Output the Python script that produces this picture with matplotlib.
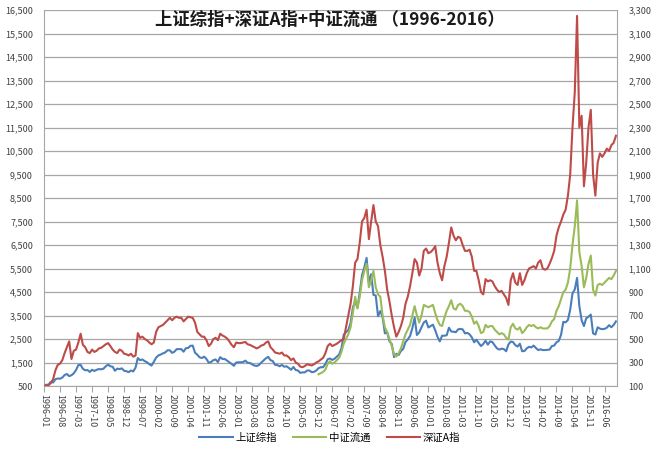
import matplotlib
matplotlib.use('Agg')
import matplotlib.pyplot as plt
from matplotlib.ticker import FuncFormatter
import pandas as pd

plt.rcParams['font.family'] = ['Noto Sans CJK SC', 'DejaVu Sans']

# monthly points, 1996-01 .. 2016-11
months = pd.period_range('1996-01', '2016-11', freq='M')

sh_composite = [
    540, 550, 560, 680, 650, 790, 820, 810, 860, 970, 1010, 920,
    960, 1040, 1180, 1390, 1400, 1230, 1170, 1180, 1100, 1190, 1140, 1190,
    1220, 1210, 1240, 1340, 1410, 1340, 1320, 1150, 1240, 1220, 1250, 1150,
    1130, 1090, 1160, 1120, 1280, 1690, 1600, 1630, 1560, 1510, 1430, 1370,
    1530, 1710, 1800, 1840, 1890, 1930, 2020, 2020, 1910, 1960, 2070, 2070,
    2070, 1960, 2110, 2120, 2210, 2220, 1920, 1830, 1720, 1690, 1750, 1650,
    1490, 1520, 1600, 1630, 1520, 1730, 1650, 1650, 1580, 1510, 1440, 1360,
    1500, 1510, 1510, 1520, 1580, 1490, 1480, 1420, 1370, 1350, 1400, 1500,
    1590, 1680, 1740, 1600, 1560, 1400, 1390, 1340, 1400, 1320, 1340, 1270,
    1190, 1310, 1180, 1160, 1060, 1080, 1080, 1160, 1160, 1090, 1100, 1160,
    1260, 1300, 1300, 1440, 1640, 1670, 1610, 1660, 1750, 1840, 2100, 2680,
    2790, 2880, 3180, 3840, 4110, 3820, 4470, 5220, 5550, 5950, 4870, 5260,
    4380, 4350, 3470, 3690, 3430, 2740, 2780, 2400, 2290, 1730, 1870, 1820,
    1990, 2080, 2370, 2480, 2630, 2960, 3410, 2670, 2780, 3000, 3200, 3280,
    2990, 3050, 3110, 2870, 2590, 2400, 2640, 2640, 2660, 2980, 2820, 2810,
    2790, 2910, 2930, 2910, 2740, 2760, 2700, 2570, 2360, 2470, 2330, 2200,
    2290, 2430, 2260, 2400, 2370, 2230, 2100, 2050, 2090, 2070, 1980, 2270,
    2390, 2370, 2240, 2180, 2300, 1980, 1990, 2100, 2170, 2140, 2220, 2120,
    2030, 2060, 2030, 2030, 2040, 2050, 2200, 2220, 2360, 2420, 2680, 3230,
    3210, 3310, 3750, 4440, 4610, 5100, 3900, 3300, 3050, 3380, 3450, 3540,
    2740, 2690, 3000, 2940, 2920, 2930, 2980, 3090, 3000, 3100, 3250,
]

# 中证流通 starts 2006-01
csi_start = 120
csi_float = [
    1000, 1050, 1100, 1200, 1450, 1550, 1450, 1500, 1600, 1700, 1950, 2300,
    2500, 2700, 3000, 3600, 4300, 3800, 4300, 5000, 5400, 5700, 4700, 5000,
    5400, 4700, 4400, 4300, 3500, 3000, 2800, 2500, 2200, 1850, 1750, 1900,
    2100, 2400, 2700, 2900, 3100, 3500, 3900, 3500, 3200, 3500, 3950, 3900,
    3850, 3900, 3950, 3600, 3300, 3100, 3050, 3400, 3700, 3900, 4150, 3800,
    3750, 3950, 4000, 3900, 3700, 3700, 3650, 3450, 3150, 3250, 3050, 2750,
    2800, 3100, 3000, 3050, 3050, 2900, 2800, 2700, 2750, 2700, 2550, 2480,
    3000, 3150, 2950, 2900, 3000, 2750, 2850, 3000, 3100, 3050, 3100, 3000,
    2950, 3000, 2950, 2950, 2950, 3050, 3250, 3350, 3700, 3900, 4200, 4500,
    4600, 4900, 5500, 6500, 7300, 8400, 6200, 5600, 4700, 5100, 5700, 6050,
    4600, 4350, 4800, 4850, 4800, 4900, 5000, 5100, 5050, 5200, 5400,
]

sz_a = [
    100, 105, 108, 125, 160, 235, 280, 290, 320, 380, 430, 480,
    330, 400, 410, 470, 545, 450, 430, 390, 380, 410, 390, 400,
    420, 425, 440, 455, 465, 440, 410, 390, 380, 410, 400, 375,
    370, 360, 375, 350, 360, 550, 510, 520, 500, 490, 470, 455,
    470, 560, 600, 610, 620, 640, 660, 680, 660, 680, 690, 680,
    680, 650, 670, 690, 685, 680, 640, 560, 540, 520, 520, 490,
    440, 460, 500, 510, 490, 545, 530, 520, 505, 480, 450, 430,
    470, 465, 465, 470, 475, 455, 450, 440, 430, 420, 430, 445,
    450, 470, 480, 430, 410, 385, 380, 375, 385, 360, 360, 345,
    320, 335, 300, 290, 265, 260, 270, 285, 280, 275, 285, 300,
    310, 325, 340, 380, 440, 460, 440, 450, 460, 475, 490, 500,
    600, 700, 800, 950, 1150, 1180, 1320, 1500, 1530, 1600, 1350, 1500,
    1640, 1500, 1460, 1300, 1200, 1080, 920, 820, 700, 600, 520, 560,
    610, 680, 800, 860, 950, 1060, 1180, 1150, 1040, 1100, 1250, 1270,
    1230, 1240, 1260, 1290, 1150, 1060, 1000, 1120, 1200, 1320, 1450, 1380,
    1340, 1370, 1360, 1300, 1250, 1250, 1260, 1200, 1080, 1080, 1000, 900,
    880, 1010, 990, 1000, 990, 950, 920, 900, 910, 880, 850, 790,
    1000, 1060, 980, 960, 1060, 960, 1000, 1060, 1100, 1110, 1120, 1100,
    1150, 1170, 1100, 1090, 1100, 1140, 1190, 1250, 1380, 1450, 1500, 1560,
    1600, 1720, 1900, 2300, 2600, 3250, 2300, 2400, 1800, 2000, 2300, 2450,
    1900, 1720, 2000, 2080, 2050, 2080, 2120, 2100, 2150, 2170, 2230,
]

x_all = list(range(len(months)))
x_csi = x_all[csi_start:]
tick_pos = list(range(0, len(months), 7))
tick_labels = [months[i].strftime('%Y-%m') for i in tick_pos]

blue = '#4A7EBB'
green = '#9BBB59'
red = '#BE4B48'

fig = plt.figure(figsize=(6.6, 4.51), dpi=100)
ax = fig.add_axes([0.0667, 0.1441, 0.8683, 0.8337])
ax2 = ax.twinx()

l1, = ax.plot(x_all, sh_composite, color=blue, lw=1.5, label='上证综指')
l2, = ax.plot(x_csi, csi_float, color=green, lw=1.5, label='中证流通')
l3, = ax2.plot(x_all, sz_a, color=red, lw=1.5, label='深证A指')

ax.set_ylim(500, 16500)
ax.set_yticks(range(500, 16501, 1000))
ax2.set_ylim(100, 3300)
ax2.set_yticks(range(100, 3301, 200))
fmt = FuncFormatter(lambda v, p: '{:,.0f}'.format(v))
ax.yaxis.set_major_formatter(fmt)
ax2.yaxis.set_major_formatter(fmt)
ax.set_xlim(0, len(months) - 0.5)
ax.set_xticks(tick_pos)
ax.set_xticklabels(tick_labels, rotation=270, fontsize=6.5, color='#404040')

ax.grid(axis='y', color='#A6A6A6', lw=0.9)
ax.set_axisbelow(True)
for a in (ax, ax2):
    for s in a.spines.values():
        s.set_visible(False)
    a.tick_params(axis='y', length=0, labelsize=6.5, labelcolor='#404040')
ax.spines['left'].set_visible(True)
ax.spines['left'].set_color('#A6A6A6')
ax.spines['bottom'].set_visible(True)
ax.spines['bottom'].set_color('#A6A6A6')
ax2.spines['right'].set_visible(True)
ax2.spines['right'].set_color('#A6A6A6')
ax.tick_params(axis='x', length=4, color='#A6A6A6', pad=2)
ax.tick_params(axis='y', pad=8)
ax2.tick_params(axis='y', pad=8)

fig.text(0.5, 0.955, '上证综指+深证A指+中证流通 （1996-2016）', ha='center', va='center',
         fontsize=12.5, fontweight='bold', color='#1a1a1a')

fig.legend(handles=[l1, l2, l3], loc='center', bbox_to_anchor=(0.5, 0.03), ncol=3,
           frameon=False, fontsize=7.5, handlelength=3.2, columnspacing=1.5,
           handletextpad=0.3)

fig.savefig('out.png', dpi=100)
